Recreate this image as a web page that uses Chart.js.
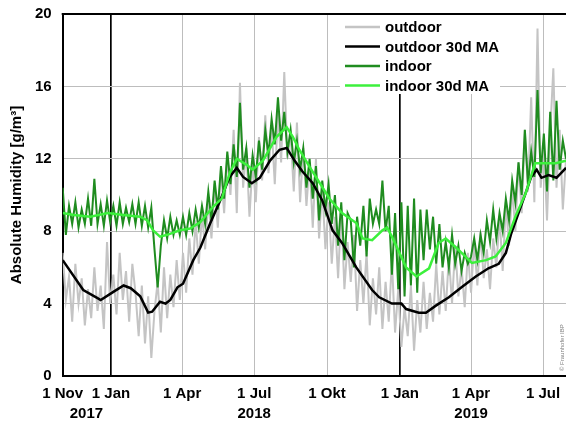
<!DOCTYPE html>
<html>
<head>
<meta charset="utf-8">
<script src="https://cdn.jsdelivr.net/npm/chart.js@4/dist/chart.umd.min.js"></script>
<style>
  html, body { margin: 0; padding: 0; background: #fff; }
  #c { display: block; }
</style>
</head>
<body>
<canvas id="c" width="566" height="423"></canvas>
<script>
// Day index counted from 1 Nov 2017
const START = Date.UTC(2017, 10, 1);
const dayOf = (y, m, d) => Math.round((Date.UTC(y, m - 1, d) - START) / 86400000);

const seriesNames = ['outdoor', 'outdoor 30d MA', 'indoor', 'indoor 30d MA'];

// Daily absolute humidity [g/m³], one value every 4 days
const STEP = 4;
const outdoor = [
  6.8, 4.2, 5.5, 3.0, 6.2, 4.0, 5.4, 2.8,
  4.8, 3.2, 6.0, 3.6, 5.0, 2.6, 7.4, 4.0,
  5.6, 3.4, 6.8, 4.2, 5.8, 3.0, 6.2,
  4.6, 2.2, 5.0, 1.8, 4.4, 1.0, 3.6,
  5.2, 2.4, 6.0, 3.2, 5.6, 3.8, 6.4, 4.2,
  6.8, 4.6, 7.6, 5.6, 8.6, 6.2, 9.0, 7.0,
  9.8, 7.6, 10.6, 8.2, 11.4, 9.0, 12.2,
  10.0, 13.6, 9.0, 16.2, 10.4, 12.6, 8.8, 11.8,
  9.6, 13.2, 10.8, 14.4, 11.2, 13.8, 10.6,
  14.6, 11.8, 16.8, 12.0, 13.4, 10.2, 14.0, 9.6,
  12.6, 9.4, 11.8, 8.2, 12.0, 7.6, 10.4, 7.0,
  9.6, 6.2, 8.8, 5.4, 9.2, 4.8, 7.4,
  5.2, 7.8, 3.6, 6.4, 4.0, 6.8, 2.8, 5.4,
  3.4, 6.0, 2.6, 5.2, 3.0, 6.4, 2.4,
  4.8, 1.6, 3.8, 2.2, 5.0, 1.4, 4.2, 2.4,
  5.2, 2.6, 4.6, 3.0, 6.2, 3.4, 5.8,
  3.6, 6.6, 4.0, 7.2, 4.4, 6.0, 3.8, 6.8,
  4.6, 7.4, 5.0, 8.0, 5.4, 7.0, 4.8, 7.6,
  6.0, 8.8, 5.8, 9.6, 7.2, 10.4, 8.0,
  11.8, 9.0, 13.6, 10.2, 15.4, 9.6, 19.2, 10.4,
  12.8, 8.6, 13.4, 17.0, 10.4, 13.6, 9.2, 12.0
];
const indoor = [
  10.4, 7.8, 9.4, 8.4, 9.6, 8.2, 9.2, 8.4,
  9.8, 8.3, 10.9, 8.4, 9.5, 8.3, 9.7, 8.5,
  9.4, 8.3, 9.6, 8.4, 9.3, 8.5, 9.5,
  8.4, 9.6, 8.3, 9.4, 8.2, 9.3, 7.0,
  4.9, 7.2, 8.6, 7.6, 8.8, 7.8, 8.6, 7.8,
  8.8, 7.8, 9.0, 8.0, 9.2, 8.2, 9.4, 8.4,
  10.2, 8.6, 10.8, 9.2, 11.6, 9.8, 12.4,
  10.6, 12.8, 11.0, 15.1, 11.4, 12.6, 10.4, 12.2,
  11.0, 13.0, 11.4, 13.6, 12.2, 14.2, 12.8,
  15.4, 13.0, 14.6, 12.4, 13.6, 11.8, 13.0, 11.4,
  12.6, 10.4, 12.0, 9.8, 11.6, 8.6, 10.8, 9.2,
  10.6, 8.4, 10.0, 7.2, 9.6, 6.4, 9.0,
  8.6, 6.0, 8.8, 7.2, 9.4, 6.6, 9.8, 8.4,
  9.2, 8.4, 10.8, 8.0, 9.4, 5.6, 9.0,
  4.8, 9.6, 4.4, 9.4, 5.0, 9.8, 4.6, 9.2,
  6.4, 9.2, 7.0, 8.8, 6.2, 8.4, 6.0,
  7.4, 6.0, 7.8, 6.2, 7.2, 5.8, 6.8, 6.2,
  6.6, 7.6, 6.4, 7.8, 6.8, 8.6, 7.4, 9.2,
  7.6, 9.0, 8.0, 9.8, 8.6, 10.8, 9.6,
  11.8, 10.0, 13.6, 10.6, 12.4, 11.0, 15.8, 11.2,
  13.4, 10.2, 14.6, 10.8, 15.2, 11.4, 13.0, 12.0
];

// 30-day moving averages (day index, value)
const outdoorMADays = [0, 26, 44, 48, 64, 77, 86, 98, 108, 113, 123, 130, 136, 145, 152, 165, 174, 186, 199, 211,
  220, 228, 239, 249, 262, 274, 283, 293, 303, 316, 328, 341, 353, 371, 391, 400, 416, 428, 434, 450,
  459, 472, 488, 504, 522, 538, 551, 560, 567, 576, 585, 592, 599, 605, 614, 624, 636];
const outdoorMA = [6.4, 4.75, 4.3, 4.2, 4.65, 5.0, 4.85, 4.4, 3.5, 3.55, 4.1, 4.0, 4.2, 4.9, 5.1, 6.4, 7.1, 8.4, 9.7, 11.0,
  11.5, 11.0, 10.65, 10.95, 11.9, 12.5, 12.6, 11.9, 11.3, 10.65, 9.7, 8.05, 7.35, 6.0, 4.75, 4.35, 4.0, 4.0, 3.7, 3.5,
  3.5, 3.9, 4.35, 4.9, 5.5, 5.95, 6.2, 6.8, 7.9, 9.0, 10.1, 11.0, 11.4, 10.95, 11.1, 10.95, 11.5];
const indoorMADays = [0, 14, 35, 57, 77, 98, 107, 114, 123, 132, 148, 161, 174, 190, 201, 211, 220, 233, 240, 253,
  270, 283, 291, 299, 312, 325, 337, 353, 371, 379, 391, 404, 410, 416, 434, 447, 463, 475, 484, 497,
  509, 517, 535, 547, 560, 572, 585, 597, 605, 623, 636];
const indoorMA = [9.0, 8.9, 8.8, 9.0, 8.9, 8.8, 8.6, 8.05, 7.7, 7.8, 8.05, 8.15, 8.5, 9.35, 9.8, 11.2, 12.0, 11.65, 11.4, 11.9,
  13.2, 13.75, 13.2, 12.5, 11.55, 10.65, 9.8, 9.0, 8.45, 7.6, 7.5, 8.05, 8.2, 7.7, 6.0, 5.5, 5.95, 7.35, 7.6, 7.1,
  6.6, 6.25, 6.4, 6.6, 7.35, 8.8, 10.1, 11.75, 11.75, 11.75, 11.9];

// Axis ticks
const tickDates = [[2017, 11, 1], [2018, 1, 1], [2018, 4, 1], [2018, 7, 1], [2018, 10, 1], [2019, 1, 1], [2019, 4, 1], [2019, 7, 1]];
const tickLabels = ['1 Nov', '1 Jan', '1 Apr', '1 Jul', '1 Okt', '1 Jan', '1 Apr', '1 Jul'];
const yearLabels = ['2017', '2018', '2019'];
const yearDates = [[2017, 12, 1], [2018, 7, 1], [2019, 4, 1]];
const yTicks = [0, 4, 8, 12, 16, 20];

const tickDays = tickDates.map(d => dayOf(...d));
const yearDays = yearDates.map(d => dayOf(...d));
const janDays = tickDays.filter((d, i) => tickLabels[i] === '1 Jan');
const allTickDays = Array.from(new Set([...tickDays, ...yearDays])).sort((a, b) => a - b);
const labelFor = day => {
  const i = tickDays.indexOf(day);
  const j = yearDays.indexOf(day);
  const top = i >= 0 ? tickLabels[i] : '';
  return j >= 0 ? [top, yearLabels[j]] : top;
};

const toPoints = (vals) => vals.map((v, i) => ({ x: i * STEP, y: v }));
const pairPoints = (days, vals) => vals.map((v, i) => ({ x: days[i], y: v }));

const FONT = "'Liberation Sans', Arial, Helvetica, sans-serif";

const overlay = {
  id: 'overlay',
  afterDatasetsDraw(chart) {
    const ctx = chart.ctx;
    const a = chart.chartArea;
    ctx.save();
    // top frame line
    ctx.strokeStyle = '#000';
    ctx.lineWidth = 2;
    ctx.beginPath();
    ctx.moveTo(a.left - 1, a.top);
    ctx.lineTo(a.right, a.top);
    ctx.stroke();

    // legend box
    ctx.fillStyle = '#fff';
    ctx.fillRect(340, a.top + 1, 160, 79);
    const colors = ['#c4c4c4', '#000000', '#1f8c1f', '#3cf03c'];
    const rows = [27, 46.5, 66, 85.5];
    ctx.font = 'bold 15px ' + FONT;
    ctx.textBaseline = 'middle';
    ctx.textAlign = 'left';
    seriesNames.forEach((name, i) => {
      ctx.strokeStyle = colors[i];
      ctx.lineWidth = 2.5;
      ctx.beginPath();
      ctx.moveTo(345, rows[i]);
      ctx.lineTo(380, rows[i]);
      ctx.stroke();
      ctx.fillStyle = '#000';
      ctx.fillText(name, 385, rows[i] + 1);
    });

    // credit line
    ctx.translate(562, 371);
    ctx.rotate(-Math.PI / 2);
    ctx.font = '6px ' + FONT;
    ctx.fillStyle = '#808080';
    ctx.textBaseline = 'middle';
    ctx.fillText('© Fraunhofer IBP', 0, 0);
    ctx.restore();
  }
};

new Chart(document.getElementById('c'), {
  type: 'line',
  data: {
    datasets: [
      { label: seriesNames[3], data: pairPoints(indoorMADays, indoorMA), borderColor: '#3cf03c', borderWidth: 2.5, order: 1 },
      { label: seriesNames[1], data: pairPoints(outdoorMADays, outdoorMA), borderColor: '#000000', borderWidth: 2.5, order: 2 },
      { label: seriesNames[2], data: toPoints(indoor), borderColor: '#1f8c1f', borderWidth: 2, order: 3 },
      { label: seriesNames[0], data: toPoints(outdoor), borderColor: '#c4c4c4', borderWidth: 2, order: 4 }
    ]
  },
  options: {
    responsive: false,
    animation: false,
    devicePixelRatio: 1,
    layout: { padding: { top: 14, left: 0, right: 0, bottom: 0 } },
    elements: { point: { radius: 0 }, line: { tension: 0, fill: false } },
    plugins: { legend: { display: false }, tooltip: { enabled: false } },
    scales: {
      x: {
        type: 'linear',
        min: 0,
        max: 636,
        afterBuildTicks: s => { s.ticks = allTickDays.map(v => ({ value: v })); },
        afterFit: s => { s.height = 47; },
        ticks: {
          autoSkip: false,
          maxRotation: 0,
          padding: 0,
          color: '#000',
          font: { family: FONT, size: 15, weight: 'bold', lineHeight: 20 / 15 },
          callback: v => labelFor(v)
        },
        grid: {
          drawTicks: true,
          tickLength: 8,
          tickColor: 'rgba(0,0,0,0)',
          color: c => {
            const v = c.tick ? c.tick.value : null;
            if (yearDays.includes(v) && !tickDays.includes(v)) return 'rgba(0,0,0,0)';
            if (janDays.includes(v) || v === 0) return '#000';
            return '#bdbdbd';
          },
          lineWidth: c => (c.tick && janDays.includes(c.tick.value)) ? 1.7 : 1
        },
        border: { color: '#000', width: 2 }
      },
      y: {
        min: 0,
        max: 20,
        afterBuildTicks: s => { s.ticks = yTicks.map(v => ({ value: v })); },
        afterFit: s => { s.width = 62.7; },
        ticks: {
          padding: 0,
          color: '#000',
          font: { family: FONT, size: 15, weight: 'bold' }
        },
        grid: {
          drawTicks: true,
          tickLength: 11,
          tickColor: 'rgba(0,0,0,0)',
          color: c => (c.tick && c.tick.value === 20) ? '#000' : '#bdbdbd',
          lineWidth: 1
        },
        border: { color: '#000', width: 2 },
        title: {
          display: true,
          text: 'Absolute Humidity [g/m³]',
          color: '#000',
          padding: { top: 8, bottom: 0 },
          font: { family: FONT, size: 15, weight: 'bold' }
        }
      }
    }
  },
  plugins: [overlay]
});
</script>
</body>
</html>
